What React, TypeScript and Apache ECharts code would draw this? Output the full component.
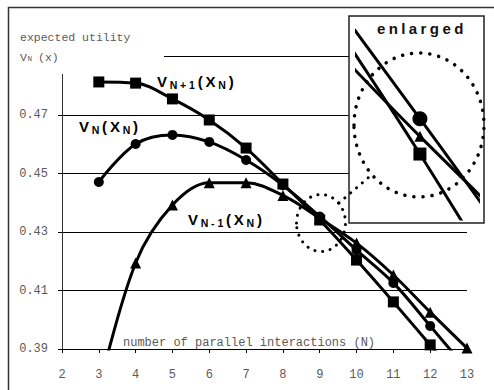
import { useEffect, useRef } from 'react';
import * as echarts from 'echarts';

// ---- data ----
const N_VALUES = [3, 4, 5, 6, 7, 8, 9, 10, 11, 12, 13];
// V_{N+1}(X_N)  (squares)
const V_NEXT = [0.4813, 0.4809, 0.4755, 0.4683, 0.4587, 0.4464, 0.4341, 0.4204, 0.4061, 0.3914, 0.377];
// V_N(X_N)  (circles)
const V_CUR = [0.4471, 0.4601, 0.4632, 0.4608, 0.4546, 0.446, 0.4353, 0.4238, 0.4126, 0.3979, 0.383];
// V_{N-1}(X_N)  (triangles)
const V_PREV = [0.376, 0.4194, 0.4392, 0.4468, 0.4468, 0.4425, 0.4347, 0.4262, 0.4153, 0.4026, 0.3903];

const X_RANGE = [2, 13];
const Y_RANGE = [0.39, 0.49];
const Y_STEP = 0.02;
const Y_LABELED_MAX = 0.47; // top grid line carries no label (covered by the axis title)

// enlarged view around N = 9
const INSET_X_RANGE = [8.74, 9.24];
const INSET_Y_RANGE = [0.431898, 0.438305];
const INSET_LINES = [0.432, 0.433, 0.434, 0.435, 0.436, 0.437, 0.438];

const pairs = (vals: number[]) => N_VALUES.map((n, i) => [n, vals[i]]);

const MONO = "'Liberation Mono', 'DejaVu Sans Mono', monospace";
const SANS = "'Liberation Sans', Arial, sans-serif";
const GREY = '#5a5a5a';

function formula(parts: Array<[string, boolean]>) {
  return parts
    .map(([t, sub]) => Array.from(t).map((c) => `{${sub ? 's' : 'b'}|${c}}`).join(''))
    .join('');
}

const richBold = {
  b: { fontFamily: SANS, fontWeight: 'bold', fontSize: 15, fill: '#000', padding: [0, 1.4, 0, 1.4], lineHeight: 18 },
  s: {
    fontFamily: SANS,
    fontWeight: 'bold',
    fontSize: 10.5,
    fill: '#000',
    padding: [0, 1.4, 0, 1.4],
    lineHeight: 15,
    verticalAlign: 'bottom',
  },
};

function labelText(x: number, y: number, parts: Array<[string, boolean]>) {
  return {
    type: 'text',
    z: 6,
    silent: true,
    x,
    y,
    style: {
      text: formula(parts),
      rich: richBold,
      align: 'left',
      verticalAlign: 'middle',
    },
  };
}

function monoText(x: number, y: number, text: string, size: number) {
  return {
    type: 'text',
    z: 6,
    silent: true,
    x,
    y,
    style: { text, font: `${size}px ${MONO}`, fill: GREY, align: 'left', verticalAlign: 'middle' },
  };
}

export default function App() {
  const ref = useRef<HTMLDivElement>(null);

  useEffect(() => {
    if (!ref.current) return;
    const chart = echarts.init(ref.current, undefined, { renderer: 'svg' });

    const lineBase = (
      vals: number[],
      symbol: string,
      size: number,
      axis: number,
      extra: Record<string, unknown> = {}
    ) => ({
      type: 'line',
      xAxisIndex: axis,
      yAxisIndex: axis,
      data: pairs(vals),
      smooth: 0.35,
      symbol,
      symbolSize: size,
      showSymbol: true,
      clip: true,
      lineStyle: { color: '#000', width: 3 },
      itemStyle: { color: '#000' },
      emphasis: { disabled: true },
      silent: true,
      z: 3,
      ...extra,
    });

    const dotted = { fill: 'none', stroke: '#000', lineWidth: 3, lineDash: [0.1, 7.6], lineCap: 'round' };

    const option = {
      animation: false,
      grid: [
        { left: 62, right: 27, top: 56.5, bottom: 41 },
        { left: 357, top: 30, width: 121, height: 189 },
      ],
      xAxis: [
        {
          type: 'value',
          gridIndex: 0,
          min: X_RANGE[0],
          max: X_RANGE[1],
          interval: 1,
          axisLine: { lineStyle: { color: '#000', width: 1 } },
          axisTick: { show: true, length: 4, lineStyle: { color: '#000' } },
          axisLabel: { fontFamily: MONO, fontSize: 12, color: GREY, margin: 20 },
          splitLine: { show: false },
        },
        { type: 'value', gridIndex: 1, min: INSET_X_RANGE[0], max: INSET_X_RANGE[1], show: false },
      ],
      yAxis: [
        {
          type: 'value',
          gridIndex: 0,
          min: Y_RANGE[0],
          max: Y_RANGE[1],
          interval: Y_STEP,
          axisLine: { show: true, lineStyle: { color: '#333', width: 1 } },
          axisTick: { show: true, length: 4, lineStyle: { color: '#000' } },
          axisLabel: {
            fontFamily: MONO,
            fontSize: 12,
            color: GREY,
            margin: 14,
            formatter: (v: number) => (v > Y_LABELED_MAX + 1e-6 ? '' : v.toFixed(2)),
          },
          splitLine: { show: true, lineStyle: { color: '#000', width: 1 } },
        },
        { type: 'value', gridIndex: 1, min: INSET_Y_RANGE[0], max: INSET_Y_RANGE[1], show: false },
      ],
      series: [
        lineBase(V_NEXT, 'rect', 11, 0),
        lineBase(V_CUR, 'circle', 10, 0),
        lineBase(V_PREV, 'triangle', 11, 0),
        lineBase(V_NEXT, 'rect', 13, 1, {
          markLine: {
            silent: true,
            symbol: ['none', 'none'],
            label: { show: false },
            lineStyle: { color: '#000', width: 1, type: 'solid' },
            emphasis: { disabled: true },
            data: INSET_LINES.map((v) => ({ yAxis: v })),
          },
        }),
        lineBase(V_CUR, 'circle', 15, 1),
        lineBase(V_PREV, 'triangle', 11, 1),
      ],
      graphic: [
        // outer frame
        {
          type: 'rect',
          z: 1,
          silent: true,
          shape: { x: 8.5, y: 7.5, width: 600, height: 500 },
          style: { fill: 'none', stroke: '#333', lineWidth: 1.5 },
        },
        // cover behind the axis title
        {
          type: 'rect',
          z: 1,
          silent: true,
          shape: { x: 12, y: 44, width: 152, height: 30 },
          style: { fill: '#fff' },
        },
        monoText(20, 37, 'expected utility', 11.5),
        monoText(20, 57, 'V', 11.5),
        {
          type: 'text',
          z: 6,
          silent: true,
          x: 27.5,
          y: 58.5,
          style: { text: 'N', font: `7.5px ${MONO}`, fill: GREY, align: 'left', verticalAlign: 'middle' },
        },
        monoText(38, 57, '(x)', 11.5),
        monoText(123, 343, 'number of parallel interactions (N)', 12),
        labelText(155.5, 81.3, [['V', false], ['N+1', true], ['(X', false], ['N', true], [')', false]]),
        labelText(77.5, 126.8, [['V', false], ['N', true], ['(X', false], ['N', true], [')', false]]),
        labelText(186.5, 219.8, [['V', false], ['N-1', true], ['(X', false], ['N', true], [')', false]]),
        // small dotted circle around N = 9
        { type: 'ellipse', z: 5, silent: true, shape: { cx: 321, cy: 223, rx: 24.5, ry: 28.5 }, style: dotted },
        // connector
        { type: 'line', z: 5, silent: true, shape: { x1: 339, y1: 203, x2: 369, y2: 177 }, style: dotted },
        // inset box
        {
          type: 'rect',
          z: 1,
          silent: true,
          shape: { x: 349, y: 16, width: 135, height: 207 },
          style: { fill: '#fff', stroke: '#222', lineWidth: 1.5 },
        },
        {
          type: 'text',
          z: 6,
          silent: true,
          x: 377,
          y: 28,
          style: { text: 'enlarged', font: `bold 15px ${SANS}`, fill: '#111', align: 'left', verticalAlign: 'middle' },
        },
        // big dotted circle inside inset
        {
          type: 'ellipse',
          z: 5,
          silent: true,
          shape: { cx: 419, cy: 125, rx: 65, ry: 72 },
          style: { ...dotted, lineWidth: 3.5, lineDash: [0.1, 9] },
        },
      ],
    };

    chart.setOption(option as any);

    const spread = () => {
      ref.current?.querySelectorAll('text').forEach((t) => {
        if (t.textContent === 'enlarged') t.setAttribute('letter-spacing', '3.4');
      });
    };
    spread();
    const timer = setTimeout(spread, 50);

    return () => {
      clearTimeout(timer);
      chart.dispose();
    };
  }, []);

  return (
    <div
      ref={ref}
      style={{ position: 'fixed', left: 0, top: 0, width: 494, height: 390, background: '#fff' }}
    />
  );
}
